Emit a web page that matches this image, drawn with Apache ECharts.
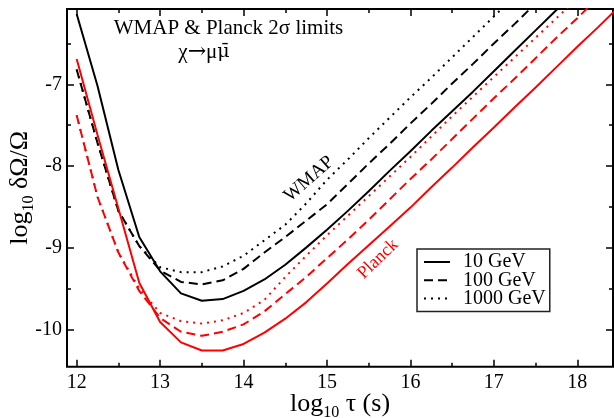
<!DOCTYPE html>
<html>
<head>
<meta charset="utf-8">
<script src="https://cdn.jsdelivr.net/npm/echarts@6/dist/echarts.min.js"></script>
<style>
html,body{margin:0;padding:0;background:#fff;}
#chart{width:614px;height:418px;}
</style>
</head>
<body>
<div id="chart"></div>
<script>
// ---- data ----
const tau = [12, 12.25, 12.5, 12.75, 13, 13.25, 13.5, 13.75, 14, 14.25, 14.5, 14.75, 15,
             15.25, 15.5, 15.75, 16, 16.25, 16.5, 16.75, 17, 17.25, 17.5, 17.75, 18, 18.25, 18.5];

// WMAP (black)
const wmap10   = [-6.14, -7.02, -8.05, -8.87, -9.29, -9.56, -9.65, -9.63, -9.53, -9.39, -9.21, -9.00, -8.78,
                  -8.55, -8.31, -8.06, -7.82, -7.57, -7.33, -7.09, -6.84, -6.59, -6.34, -6.09, -5.84];
const wmap100  = [-6.82, -7.72, -8.55, -8.98, -9.28, -9.42, -9.45, -9.40, -9.26, -9.06, -8.87, -8.67, -8.47,
                  -8.22, -7.97, -7.73, -7.48, -7.24, -6.99, -6.75, -6.50, -6.26, -6.01, -5.77];
const wmap1000 = [-6.82, -7.72, -8.55, -8.98, -9.24, -9.30, -9.30, -9.23, -9.10, -8.91, -8.72, -8.46, -8.17,
                  -7.92, -7.66, -7.41, -7.16, -6.92, -6.67, -6.42, -6.17, -5.92];

// Planck (red)
const planck10   = [-6.69, -7.62, -8.52, -9.43, -9.91, -10.16, -10.26, -10.26, -10.18, -10.04, -9.87, -9.67, -9.44,
                    -9.20, -8.97, -8.74, -8.51, -8.26, -8.02, -7.77, -7.53, -7.28, -7.04, -6.79, -6.54, -6.30, -6.05];
const planck100  = [-7.38, -8.38, -9.06, -9.53, -9.86, -10.03, -10.08, -10.03, -9.94, -9.78, -9.57, -9.36, -9.13,
                    -8.90, -8.66, -8.41, -8.16, -7.92, -7.67, -7.42, -7.17, -6.93, -6.68, -6.43, -6.19, -5.94];
const planck1000 = [-7.38, -8.38, -9.06, -9.50, -9.80, -9.90, -9.93, -9.89, -9.80, -9.64, -9.36, -9.10, -8.85,
                    -8.61, -8.37, -8.13, -7.89, -7.64, -7.39, -7.15, -6.91, -6.67, -6.43, -6.19, -5.95];

const massNames = ['10 GeV', '100 GeV', '1000 GeV'];

// ---- axes ----
const xMin = 11.884, xMax = 18.428;
const yMin = -10.458, yMax = -6.078;
const xMajor = [12, 13, 14, 15, 16, 17, 18];
const xMinor = [12.5, 13.5, 14.5, 15.5, 16.5, 17.5];
const yMajor = [-10, -9, -8, -7];
const yMinor = [-9.5, -8.5, -7.5, -6.5];

const FONT = '"Liberation Serif", "DejaVu Serif", serif';

function pts(vals) { return vals.map((v, i) => [tau[i], v]); }

const tickStyle = { color: '#000', width: 1.5 };

function xAx(pos, ticks, len, labels) {
  return {
    type: 'value', gridIndex: 0, position: pos, min: xMin, max: xMax,
    axisLine: { show: false }, splitLine: { show: false },
    axisTick: { show: true, inside: true, length: len, customValues: ticks, lineStyle: tickStyle },
    axisLabel: labels ? { show: true, customValues: ticks, fontSize: 20, fontFamily: FONT, color: '#000', margin: 6 }
                      : { show: false }
  };
}
function yAx(pos, ticks, len, labels) {
  return {
    type: 'value', gridIndex: 0, position: pos, min: yMin, max: yMax,
    axisLine: { show: false }, splitLine: { show: false },
    axisTick: { show: true, inside: true, length: len, customValues: ticks, lineStyle: tickStyle },
    axisLabel: labels ? { show: true, customValues: ticks, fontSize: 20, fontFamily: FONT, color: '#000', margin: 5 }
                      : { show: false }
  };
}

const xAxes = [xAx('bottom', xMajor, 7, true), xAx('bottom', xMinor, 4, false),
               xAx('top', xMajor, 7, false), xAx('top', xMinor, 4, false)];
const yAxes = [yAx('left', yMajor, 7, true), yAx('left', yMinor, 4, false),
               yAx('right', yMajor, 7, false), yAx('right', yMinor, 4, false)];

const nameRich = {
  m: { fontSize: 26, fontFamily: FONT, color: '#000', lineHeight: 34 },
  s: { fontSize: 16, fontFamily: FONT, color: '#000', lineHeight: 16, verticalAlign: 'bottom' }
};
Object.assign(xAxes[0], {
  name: '{m|log}{s|10}{m| τ (s)}', nameLocation: 'middle', nameGap: 20, nameMoveOverlap: false,
  nameTextStyle: { rich: nameRich }
});
Object.assign(yAxes[0], {
  name: '{m|log}{s|10}{m| δΩ/Ω}', nameLocation: 'middle', nameGap: 30, nameRotate: 90, nameMoveOverlap: false,
  nameTextStyle: { rich: nameRich }
});

const DASH = [9, 5], DOT = [2, 5];
function ser(name, vals, color, type, z) {
  return {
    name: name, type: 'line', xAxisIndex: 0, yAxisIndex: 0, data: pts(vals),
    symbol: 'none', showSymbol: false, clip: true, z: z, animation: false,
    lineStyle: { color: color, width: 2, type: type, cap: 'butt' },
    itemStyle: { color: color }
  };
}

const series = [
  ser(massNames[0], wmap10, '#000', 'solid', 5),
  ser(massNames[1], wmap100, '#000', DASH, 4),
  ser(massNames[2], wmap1000, '#000', DOT, 3),
  ser(massNames[0], planck10, '#ff0000', 'solid', 5),
  ser(massNames[1], planck100, '#ff0000', DASH, 4),
  ser(massNames[2], planck1000, '#ff0000', DOT, 3)
];

const chart = echarts.init(document.getElementById('chart'), null, { renderer: 'canvas' });
chart.setOption({
  animation: false,
  backgroundColor: '#fff',
  grid: { left: 67, right: 1, top: 9, bottom: 51.3, show: true, borderColor: '#000', borderWidth: 2,
          containLabel: false, outerBoundsMode: 'none' },
  xAxis: xAxes,
  yAxis: yAxes,
  legend: {
    data: massNames, orient: 'vertical', left: 417, top: 249, selectedMode: false,
    borderColor: '#222', borderWidth: 1.5, borderRadius: 0, padding: [3, 4, 3, 6],
    itemWidth: 26, itemHeight: 14, itemGap: -1.7,
    itemStyle: { opacity: 0, borderWidth: 0 },
    textStyle: { fontSize: 20, fontFamily: FONT, color: '#000', lineHeight: 18, padding: [0, 0, 0, 8] }
  },
  graphic: [
    { type: 'text', x: 228.5, y: 28.7, silent: true,
      style: { text: 'WMAP & Planck 2σ limits', fontSize: 21, fontFamily: FONT, fill: '#000',
               align: 'center', verticalAlign: 'middle' } },
    { type: 'text', x: 204, y: 52.2, silent: true,
      style: { text: '{g|χ}{a|→}{g|μ}{b|μ\u0304}', fontSize: 21, fontFamily: FONT, fill: '#000',
               align: 'center', verticalAlign: 'middle',
               rich: { g: { fontSize: 21, fontFamily: FONT, fill: '#000' },
                       a: { fontSize: 22, fontFamily: '"DejaVu Serif", serif', fill: '#000' },
                       b: { fontSize: 19, fontFamily: '"DejaVu Serif", serif', fill: '#000' } } } },
    { type: 'text', x: 309, y: 179, rotation: 41 * Math.PI / 180, silent: true,
      style: { text: 'WMAP', fontSize: 19, fontFamily: FONT, fill: '#000',
               align: 'center', verticalAlign: 'middle' } },
    { type: 'text', x: 378, y: 259, rotation: 44 * Math.PI / 180, silent: true,
      style: { text: 'Planck', fontSize: 18, fontFamily: FONT, fill: '#ff0000',
               align: 'center', verticalAlign: 'middle' } }
  ],
  series: series
});
</script>
</body>
</html>
